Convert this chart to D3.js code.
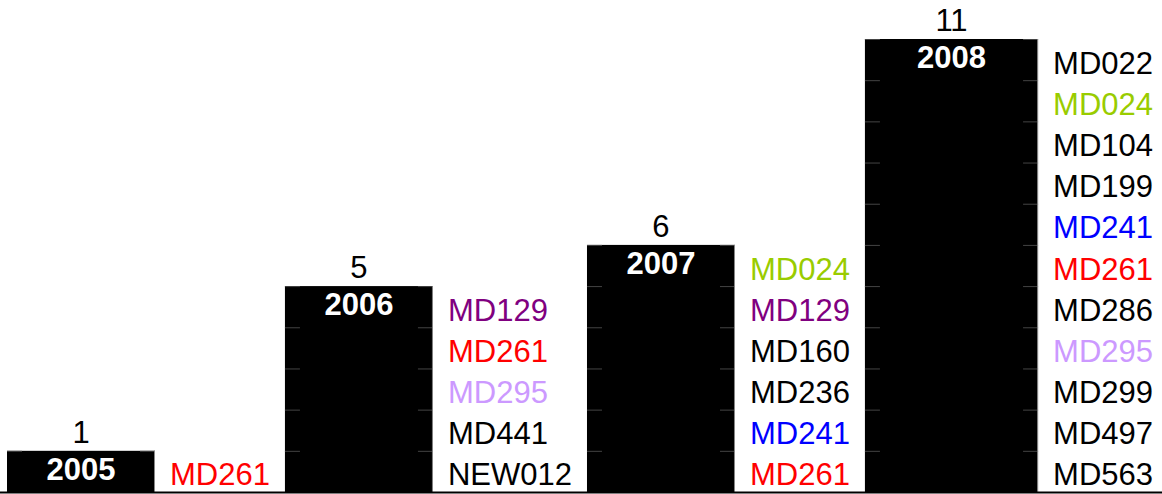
<!DOCTYPE html>
<html>
<head>
<meta charset="utf-8">
<script src="https://cdn.jsdelivr.net/npm/d3@7"></script>
<style>
  html, body { margin: 0; padding: 0; background: #fff; }
  svg { display: block; font-family: Arial, "Liberation Sans", sans-serif; }
</style>
</head>
<body>
<div id="chart"></div>
<script>
// Years and the codes listed for each (top to bottom)
const years = ["2005", "2006", "2007", "2008"];
const codes2005 = ["MD261"];
const codes2006 = ["MD129", "MD261", "MD295", "MD441", "NEW012"];
const codes2007 = ["MD024", "MD129", "MD160", "MD236", "MD241", "MD261"];
const codes2008 = ["MD022", "MD024", "MD104", "MD199", "MD241", "MD261", "MD286", "MD295", "MD299", "MD497", "MD563"];
const codeColors = { MD024: "#99cc00", MD129: "#800080", MD261: "#ff0000", MD295: "#cc99ff", MD241: "#0000ff" };

const groups = years.map((y, i) => ({ year: y, codes: [codes2005, codes2006, codes2007, codes2008][i] }));
groups.forEach(g => g.count = g.codes.length);

const width = 1162, height = 494;
const baseY = 492, topY = 39;
const barW = 148, pad = 15;
const fontSize = 31;

const svg = d3.select("#chart").append("svg")
    .attr("width", width)
    .attr("height", height);

const y = d3.scaleLinear()
    .domain([0, d3.max(groups, d => d.count)])
    .range([baseY, topY]);

// measure label widths to lay out the columns like a table
const measure = svg.append("text").attr("font-size", fontSize);
groups.forEach(g => {
    g.labelW = d3.max(g.codes, c => { measure.text(c); return measure.node().getComputedTextLength(); });
});
measure.remove();

let x = 7;
groups.forEach((g, i) => {
    g.x0 = x;
    if (i === groups.length - 1) {
        // last column stretches to fill the row
        g.x1 = width - (g.labelW + pad + 9);
    } else {
        g.x1 = x + barW;
    }
    x = g.x1 + g.labelW + 2 * pad;
});

const segH = y(0) - y(1);

const bar = svg.selectAll("g.bar")
    .data(groups)
    .enter().append("g")
    .attr("class", "bar");

bar.append("rect")
    .attr("x", d => d.x0)
    .attr("y", d => y(d.count))
    .attr("width", d => d.x1 - d.x0)
    .attr("height", d => y(0) - y(d.count))
    .attr("fill", "#000");

// faint cell borders at the bar edges
bar.each(function(d) {
    const g = d3.select(this);
    const ks = d3.range(1, d.count + 1);
    g.selectAll("line.tl").data(ks).enter().append("line")
        .attr("x1", d.x0).attr("x2", d.x0 + 15)
        .attr("y1", k => y(k) + 0.5).attr("y2", k => y(k) + 0.5)
        .attr("stroke", "#444").attr("stroke-width", 1);
    g.selectAll("line.tr").data(ks).enter().append("line")
        .attr("x1", d.x1 - 15).attr("x2", d.x1)
        .attr("y1", k => y(k) + 0.5).attr("y2", k => y(k) + 0.5)
        .attr("stroke", "#444").attr("stroke-width", 1);
    g.append("line")
        .attr("x1", d.x1 - 0.5).attr("x2", d.x1 - 0.5)
        .attr("y1", y(d.count)).attr("y2", y(0))
        .attr("stroke", "#888").attr("stroke-width", 1);
});

// count above bar
bar.append("text")
    .attr("x", d => (d.x0 + d.x1) / 2)
    .attr("y", d => y(d.count) - 8)
    .attr("text-anchor", "middle")
    .attr("font-size", fontSize)
    .attr("fill", "#000")
    .text(d => d.count);

// year inside top of bar
bar.append("text")
    .attr("x", d => (d.x0 + d.x1) / 2)
    .attr("y", d => y(d.count) + 29)
    .attr("text-anchor", "middle")
    .attr("font-size", fontSize)
    .attr("font-weight", "bold")
    .attr("fill", "#fff")
    .text(d => d.year);

// codes next to the bar, one per unit
bar.each(function(d) {
    d3.select(this).selectAll("text.code")
        .data(d.codes)
        .enter().append("text")
        .attr("class", "code")
        .attr("x", d.x1 + pad)
        .attr("y", (c, i) => y(d.count - i) + segH / 2 + 14)
        .attr("font-size", fontSize)
        .attr("fill", c => codeColors[c] || "#000")
        .text(c => c);
});

// baseline
svg.append("line")
    .attr("x1", 0).attr("x2", width)
    .attr("y1", baseY + 0.5).attr("y2", baseY + 0.5)
    .attr("stroke", "#000").attr("stroke-width", 2);
</script>
</body>
</html>
